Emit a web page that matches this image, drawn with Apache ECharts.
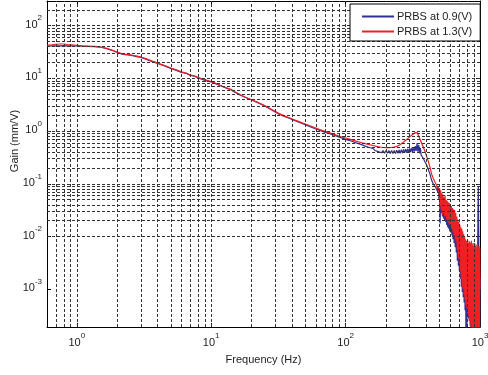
<!DOCTYPE html>
<html><head><meta charset="utf-8">
<script src="https://cdn.jsdelivr.net/npm/echarts@6/dist/echarts.min.js"></script>
<style>html,body{margin:0;padding:0;background:#fff}#c{width:488px;height:375px}</style>
</head><body><div id="c"></div>
<script>
// Grid-line positions (MATLAB style log grid)
const xGridLines = [0.7,0.8,0.9,1,2,3,4,5,6,7,8,9,10,20,30,40,50,60,70,80,90,100,200,300,400,500,600,700,800,900];
const yGridLines = [2e-4,3e-4,4e-4,5e-4,6e-4,7e-4,8e-4,9e-4,1e-3,2e-3,3e-3,4e-3,5e-3,6e-3,7e-3,8e-3,9e-3,
  0.01,0.02,0.03,0.04,0.05,0.06,0.07,0.08,0.09,0.1,0.2,0.3,0.4,0.5,0.6,0.7,0.8,0.9,1,2,3,4,5,6,7,8,9,10,20,30,40,50,60,70,80,90,100,200];

// Red (PRBS at 1.3 V) smooth part
const redFreq = [0.6,0.65,0.7,0.75,0.8,0.85,0.9,1.0,1.1,1.2,1.35,1.5,1.65,1.8,2.0,2.2,2.4,2.6,2.8,3.0,3.3,3.6,4.0,4.5,5.0,5.5,6.0,6.5,7.0,7.5,8.0,9.0,10,11,12,13,14,15,16.5,18,20,22,25,28,32,35,38.5,42,46,50,55,60,65,70,76,83,90,100,110,120,130,140,150,160,170,180,190,200,210,220,230,240,250,260,270,280,290,300,310,320,330,337,342,350,360,370,377,390,400,412,424,436,450,465,474];
const redGain = [43,43.5,44.5,45,45,44,43.5,42.5,41.5,41,40.5,39.5,37.5,35,31.5,29,28.5,27.5,26.5,25.5,23.5,21.5,19.5,17.5,15.8,14.5,13.3,12.6,11.6,11.2,10.4,9.4,8.7,7.9,7.2,6.6,6.2,5.6,4.9,4.4,3.95,3.55,3.05,2.6,2.15,1.95,1.78,1.62,1.48,1.37,1.25,1.14,1.06,0.99,0.93,0.86,0.80,0.74,0.69,0.645,0.61,0.58,0.555,0.535,0.515,0.5,0.49,0.485,0.485,0.49,0.5,0.515,0.54,0.575,0.62,0.67,0.72,0.78,0.84,0.89,0.94,0.97,0.93,0.8,0.68,0.57,0.51,0.41,0.34,0.27,0.21,0.155,0.125,0.105,0.095];

// Blue (PRBS at 0.9 V) smooth part
const blueFreq = [0.6,0.65,0.7,0.75,0.8,0.85,0.9,1.0,1.1,1.2,1.35,1.5,1.65,1.8,2.0,2.2,2.4,2.6,2.8,3.0,3.3,3.6,4.0,4.5,5.0,5.5,6.0,6.5,7.0,7.5,8.0,9.0,10,11,12,13,14,15,16.5,18,20,22,25,28,32,35,38.5,42,46,50,55,60,65,70,76,83,90,100,110,120,130,140,150,155,160,165,170,175,180,185,190,195,200,205,210,215,220,225,230,235,240,245,250,255,260,265,270,275,280,285,290,295,300,305,310,315,320,325,330,335,340,345,350,355,360,365,370,377,390,400,412,424,436,450,465,474];
const blueGain = [41,41.5,41.5,41.5,41.8,41.5,41.5,41.2,40.8,40.5,40,39,37,34.5,31,28.5,28,27,26,25,23,21,19.2,17.3,15.5,14.2,13.0,12.5,11.4,11.0,10.2,9.2,8.6,7.8,7.1,6.5,6.1,5.5,4.8,4.35,3.9,3.5,3.0,2.55,2.1,1.9,1.74,1.58,1.45,1.33,1.2,1.1,1.02,0.96,0.9,0.83,0.77,0.7,0.65,0.6,0.56,0.52,0.49,0.46,0.47,0.43,0.45,0.41,0.44,0.39,0.43,0.38,0.43,0.38,0.43,0.375,0.43,0.375,0.43,0.375,0.435,0.38,0.44,0.38,0.445,0.385,0.45,0.39,0.455,0.39,0.46,0.395,0.47,0.4,0.48,0.405,0.49,0.41,0.52,0.42,0.59,0.41,0.55,0.38,0.48,0.35,0.34,0.31,0.26,0.23,0.19,0.155,0.118,0.098,0.088,0.083];

// Noisy high-frequency part (shared frequency grid)
const noiseFreq = [480,485,490,495,500,505,510,515,520,525,530,535,540,545,550,555,560,565,570,575,580,585,590,595,600,606,612,618,624,630,636,642,648,654,660,666,672,678,684,690,696,702,708,714,720,726,732,738,744,750,756,762,768,774,780,786,792,798,804,810,816,822,828,834,840,846,852,858,864,870,876,882,888,894,900,906,912,918,924,930,936,942,948,954,960,966,972,978,984,990,996,1000];
const redNoise = [9.3e-2,7.9e-2,8.9e-2,6.0e-2,8.3e-2,3.8e-2,7.6e-2,3.2e-2,6.6e-2,2.6e-2,6.3e-2,2.8e-2,5.6e-2,2.4e-2,6.0e-2,2.5e-2,5.0e-2,2.1e-2,4.8e-2,1.9e-2,4.5e-2,1.8e-2,4.4e-2,1.66e-2,4.0e-2,1.58e-2,3.8e-2,1.41e-2,3.5e-2,1.2e-2,3.3e-2,1.05e-2,3.2e-2,8.9e-3,2.8e-2,7.9e-3,2.4e-2,5.6e-3,2.1e-2,4.0e-3,1.9e-2,3.2e-3,1.66e-2,2.2e-3,1.5e-2,1.58e-3,1.41e-2,1.12e-3,1.26e-2,1.0e-3,1.12e-2,7.9e-4,1.0e-2,6.3e-4,8.9e-3,5.0e-4,8.3e-3,4.5e-4,7.9e-3,3.5e-4,7.6e-3,3.2e-4,8.3e-3,2.5e-4,7.9e-3,2.2e-4,7.6e-3,1.58e-4,8.3e-3,2.0e-4,7.1e-3,1.26e-4,7.6e-3,1.78e-4,6.6e-3,1.0e-4,7.6e-3,1.41e-4,6.6e-3,1.0e-4,7.1e-3,1.26e-4,6.3e-3,1.0e-4,7.1e-3,1.12e-4,6.0e-3,1.0e-4,6.6e-3,1.26e-4,6.0e-3,1.0e-3];
const blueNoise = [8.3e-2,7.1e-2,7.9e-2,5.0e-2,7.1e-2,1.78e-2,6.3e-2,2.8e-2,5.6e-2,2.4e-2,5.2e-2,2.2e-2,4.8e-2,2.0e-2,4.8e-2,1.9e-2,4.2e-2,1.66e-2,4.0e-2,1.5e-2,3.5e-2,1.41e-2,3.5e-2,1.26e-2,3.2e-2,1.2e-2,3.0e-2,1.05e-2,2.8e-2,8.9e-3,2.5e-2,7.6e-3,2.4e-2,6.3e-3,2.1e-2,5.0e-3,1.78e-2,3.5e-3,1.5e-2,2.8e-3,1.32e-2,2.2e-3,1.2e-2,1.58e-3,1.05e-2,1.12e-3,9.5e-3,8.9e-4,8.3e-3,7.1e-4,7.9e-3,5.6e-4,7.1e-3,4.0e-4,6.3e-3,1.0e-4,6.0e-3,1.0e-4,5.6e-3,3.2e-4,5.2e-3,2.8e-4,5.0e-3,2.5e-4,5.0e-3,2.0e-4,4.5e-3,1.78e-4,4.2e-3,1.58e-4,4.0e-3,1.41e-4,3.8e-3,1.58e-4,3.5e-3,1.26e-4,4.0e-3,1.41e-4,3.2e-3,1.26e-4,3.5e-3,1.12e-4,3.2e-3,1.26e-4,4.0e-3,3.2e-2,8.7e-2,1.26e-2,1.58e-4,2.5e-3,1.26e-4,1.58e-3];

const FONT = 'Liberation Sans, Arial, Helvetica, sans-serif';
const TXT = '#222';
const BLUE = '#2e3192';
const RED = '#ed2024';

function zip(f, g) { return f.map((v, i) => [v, g[i]]); }
const blueData = zip(blueFreq, blueGain).concat(zip(noiseFreq, blueNoise));
const redData = zip(redFreq, redGain).concat(zip(noiseFreq, redNoise));

function isDecade(v) { const l = Math.log10(v); return Math.abs(l - Math.round(l)) < 1e-6; }
function fmt(v) { if (!isDecade(v)) return ''; return '{b|10}{s|' + Math.round(Math.log10(v)) + '}'; }
const rich = {
  b: { fontSize: 11, fontFamily: FONT, color: TXT, lineHeight: 16, verticalAlign: 'bottom' },
  s: { fontSize: 8, fontFamily: FONT, color: TXT, lineHeight: 16, verticalAlign: 'top' }
};

const chart = echarts.init(document.getElementById('c'), null, { renderer: 'canvas' });
const axisLine = { show: true, lineStyle: { color: '#000', width: 1 } };
const tick = { show: true, inside: true, length: 4, lineStyle: { color: '#000' } };

chart.setOption({
  animation: false,
  backgroundColor: '#fff',
  grid: { left: 47, right: 8, top: 1, bottom: 48, show: false, containLabel: false, outerBoundsMode: 'none' },
  legend: {
    data: ['PRBS at 0.9(V)', 'PRBS at 1.3(V)'],
    orient: 'vertical', left: 350, top: 4,
    itemWidth: 32, itemHeight: 11, itemGap: 4,
    padding: [7, 8, 4, 11],
    borderColor: '#000', borderWidth: 1, backgroundColor: '#fff', borderRadius: 0,
    itemStyle: { opacity: 0 },
    textStyle: { fontSize: 11, fontFamily: FONT, color: TXT, padding: [0, 0, 0, -2] },
    z: 20
  },
  xAxis: [
    { type: 'log', logBase: 10, min: 0.6, max: 1000, position: 'bottom',
      name: 'Frequency (Hz)', nameLocation: 'middle', nameGap: 27, nameMoveOverlap: false,
      nameTextStyle: { fontSize: 11, fontFamily: FONT, color: TXT },
      axisLine, axisTick: tick, splitLine: { show: false },
      axisLabel: { formatter: fmt, rich, margin: 5 } },
    { type: 'log', logBase: 10, min: 0.6, max: 1000, position: 'top',
      axisLine, axisTick: tick, splitLine: { show: false }, axisLabel: { show: false } }
  ],
  yAxis: [
    { type: 'log', logBase: 10, min: 1.93e-4, max: 294, position: 'left',
      name: 'Gain (mm/V)', nameLocation: 'middle', nameGap: 27, nameRotate: 90, nameMoveOverlap: false,
      nameTextStyle: { fontSize: 11, fontFamily: FONT, color: TXT, padding: [0, 0, 0, 46] },
      axisLine, axisTick: tick, splitLine: { show: false },
      axisLabel: { formatter: fmt, rich, margin: 5, padding: [0, 0, 7, 0] } },
    { type: 'log', logBase: 10, min: 1.93e-4, max: 294, position: 'right',
      axisLine, axisTick: tick, splitLine: { show: false }, axisLabel: { show: false } }
  ],
  series: [
    { name: '_grid', type: 'line', data: [[1, 1]], symbol: 'none', z: 1, silent: true,
      lineStyle: { opacity: 0 },
      markLine: {
        silent: true, symbol: ['none', 'none'], label: { show: false },
        lineStyle: { color: '#333', width: 1, type: [3, 2] },
        emphasis: { disabled: true },
        data: xGridLines.map(v => ({ xAxis: v })).concat(yGridLines.map(v => ({ yAxis: v })))
      } },
    { name: 'PRBS at 0.9(V)', type: 'line', data: blueData, symbol: 'none', showSymbol: false,
      z: 3, lineStyle: { color: BLUE, width: 1.2 }, itemStyle: { color: BLUE } },
    { name: 'PRBS at 1.3(V)', type: 'line', data: redData, symbol: 'none', showSymbol: false,
      z: 4, lineStyle: { color: RED, width: 1.2 }, itemStyle: { color: RED } }
  ]
});
</script></body></html>
